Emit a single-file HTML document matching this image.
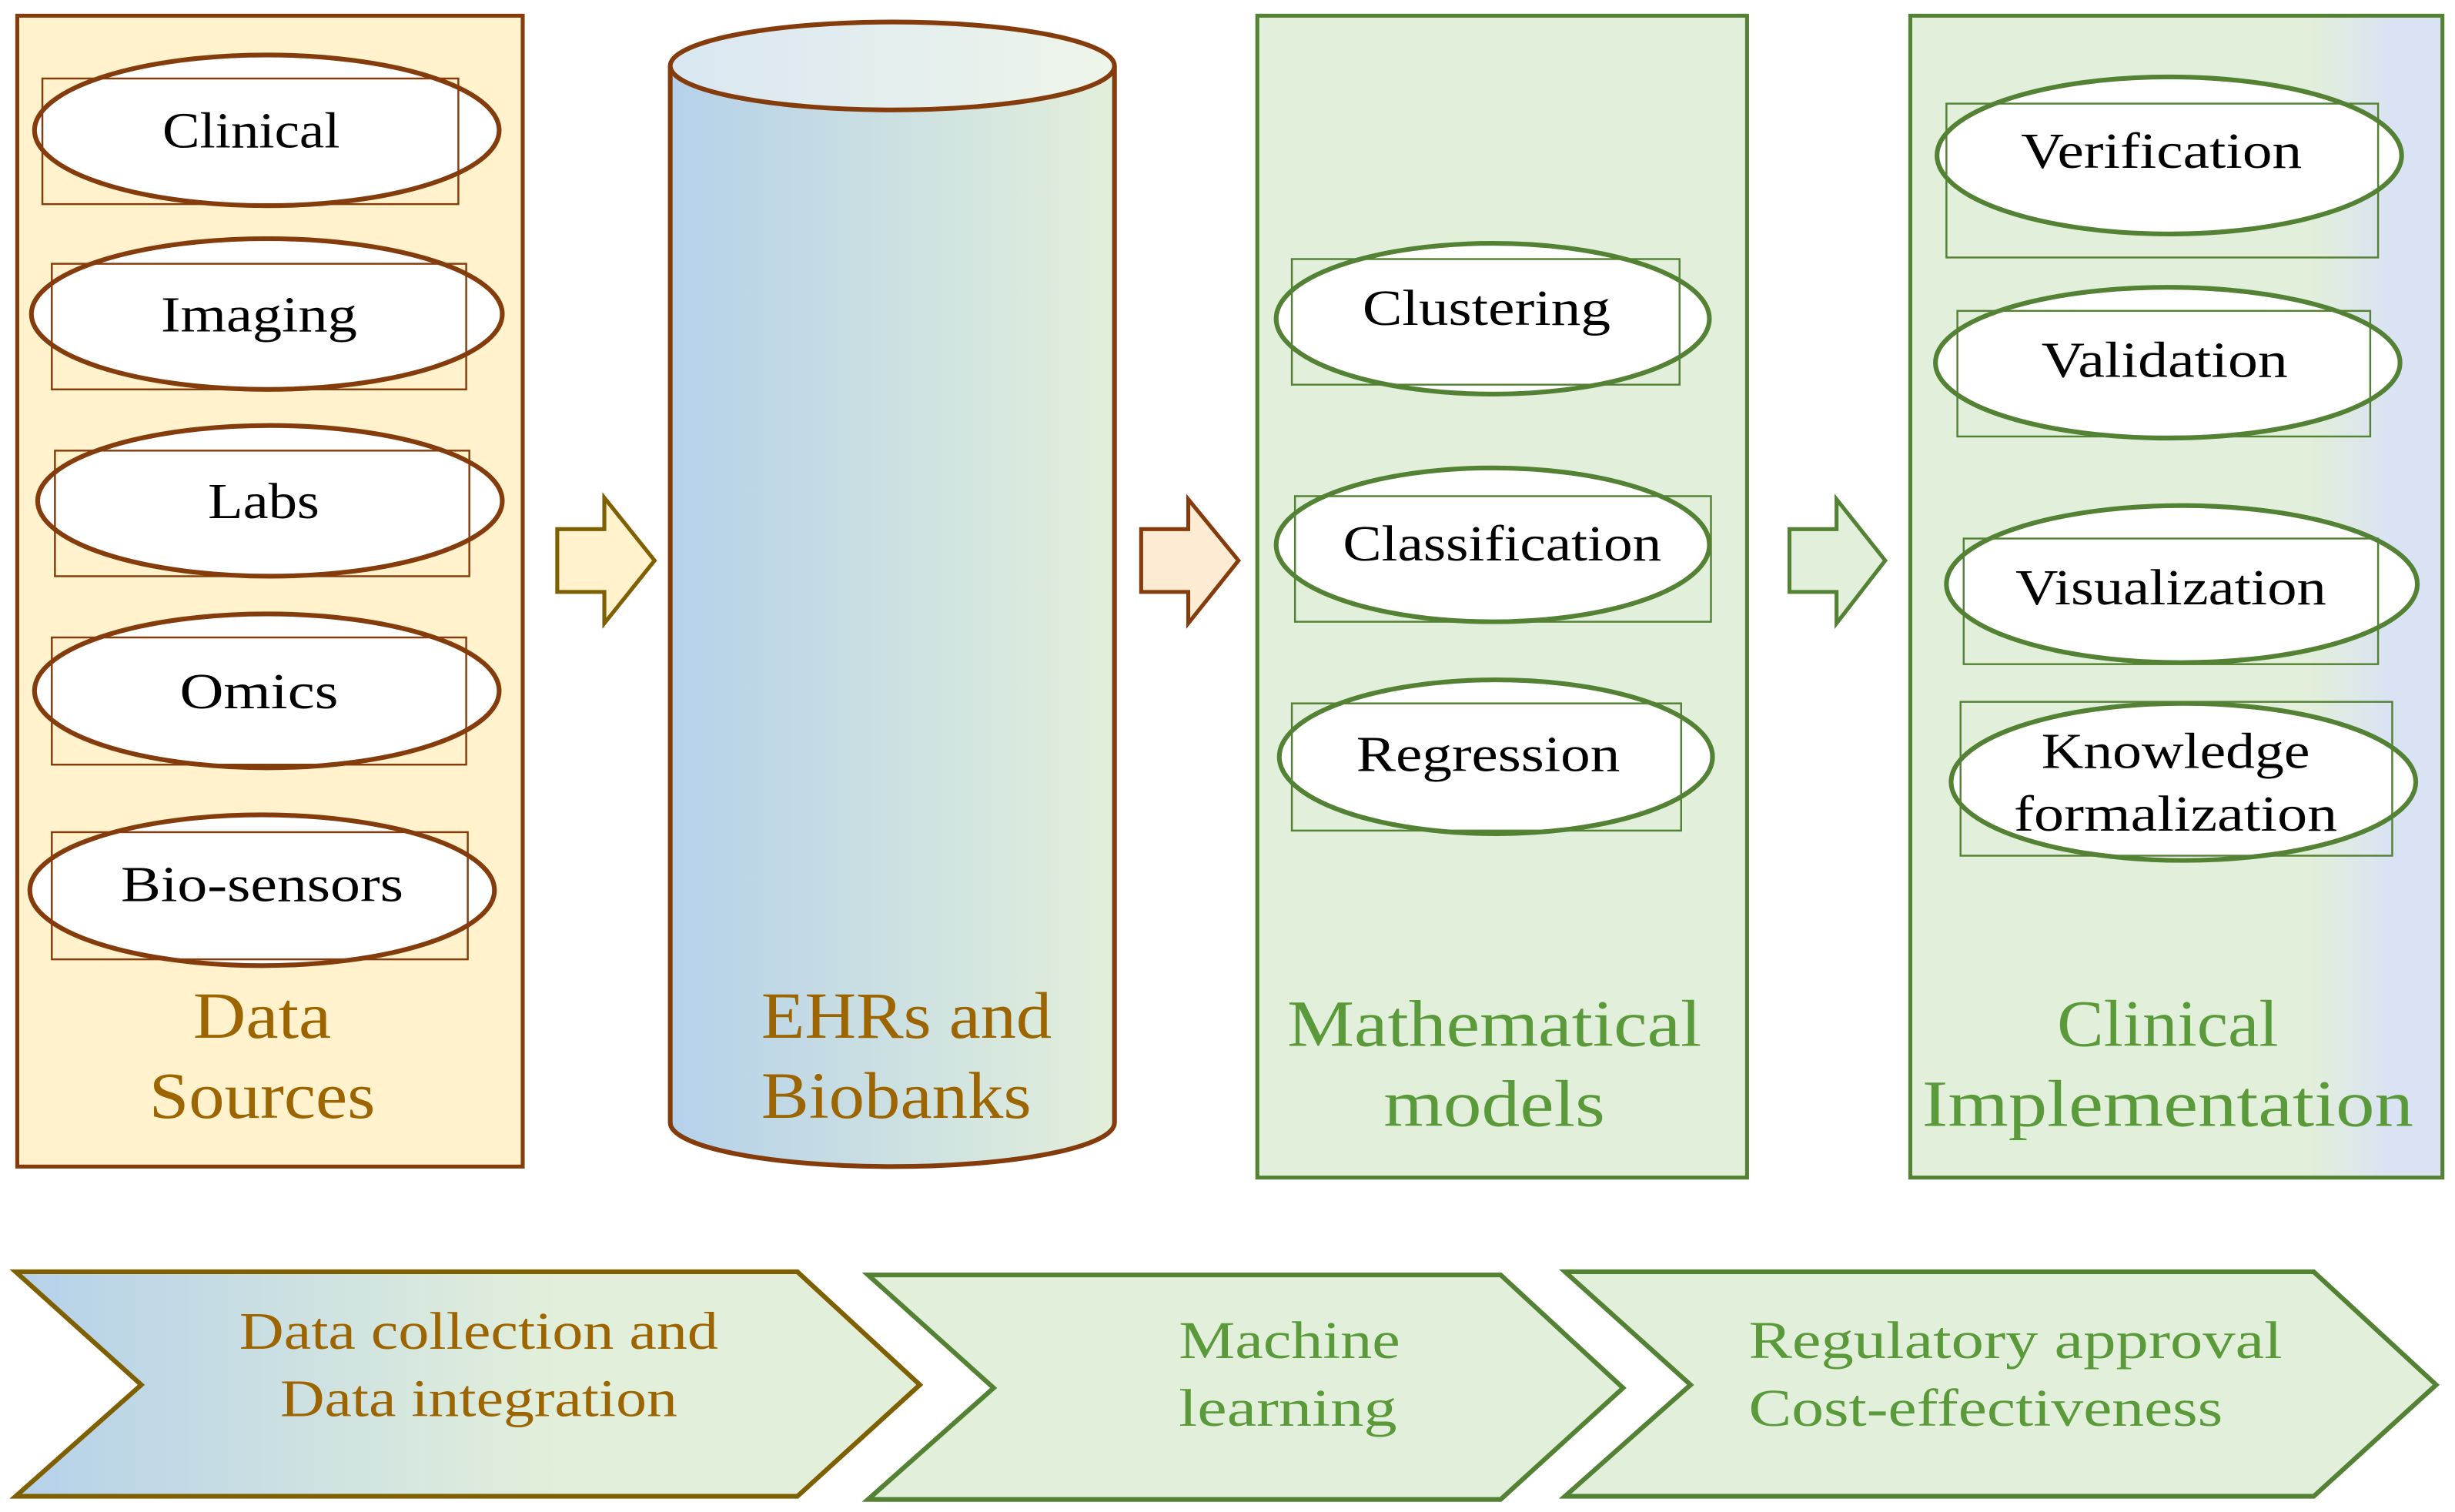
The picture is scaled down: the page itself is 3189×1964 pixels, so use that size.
<!DOCTYPE html>
<html><head><meta charset="utf-8"><style>html,body{margin:0;padding:0;background:#fff}svg{display:block}</style></head>
<body>
<svg width="3189" height="1964" viewBox="0 0 1564 963" preserveAspectRatio="none" xmlns="http://www.w3.org/2000/svg" font-family="Liberation Serif, serif">
<defs>
<linearGradient id="cyl" x1="0" x2="1" y1="0" y2="0"><stop offset="0" stop-color="#b5d1ea"/><stop offset="1" stop-color="#e2efda"/></linearGradient>
<linearGradient id="cyltop" x1="0" x2="1"><stop offset="0" stop-color="#d9e7f2"/><stop offset="1" stop-color="#eef5ea"/></linearGradient>
<linearGradient id="clin" x1="0" x2="1"><stop offset="0" stop-color="#e2efda"/><stop offset="0.75" stop-color="#e2efda"/><stop offset="0.9" stop-color="#dae3f3"/><stop offset="1" stop-color="#dae3f3"/></linearGradient>
<linearGradient id="chev" x1="0" x2="1"><stop offset="0" stop-color="#b5d1ea"/><stop offset="0.6" stop-color="#e2efda"/><stop offset="1" stop-color="#e2efda"/></linearGradient>
</defs>
<g font-size="32" fill="#000" text-anchor="middle" lengthAdjust="spacingAndGlyphs">
<!-- Data Sources -->
<rect x="11" y="10" width="322" height="733" fill="#fff2cc" stroke="#843c0c" stroke-width="2.5"/>
<g stroke="#843c0c" fill="#fff">
<ellipse cx="170" cy="83" rx="148" ry="48" stroke-width="3"/>
<rect x="27" y="50" width="265" height="80" fill="none" stroke-width="1.2"/>
<ellipse cx="170" cy="200" rx="150" ry="48" stroke-width="3"/>
<rect x="33" y="168" width="264" height="80" fill="none" stroke-width="1.2"/>
<ellipse cx="172" cy="319" rx="148" ry="48" stroke-width="3"/>
<rect x="35" y="287" width="264" height="80" fill="none" stroke-width="1.2"/>
<ellipse cx="170" cy="440" rx="148" ry="49" stroke-width="3"/>
<rect x="33" y="406" width="264" height="81" fill="none" stroke-width="1.2"/>
<ellipse cx="167" cy="567" rx="148" ry="48" stroke-width="3"/>
<rect x="33" y="530" width="265" height="81" fill="none" stroke-width="1.2"/>
</g>
<text x="160" y="94" textLength="113" lengthAdjust="spacingAndGlyphs">Clinical</text>
<text x="165" y="211" textLength="125" lengthAdjust="spacingAndGlyphs">Imaging</text>
<text x="168" y="330" textLength="71" lengthAdjust="spacingAndGlyphs">Labs</text>
<text x="165" y="451" textLength="101" lengthAdjust="spacingAndGlyphs">Omics</text>
<text x="167" y="574" textLength="180" lengthAdjust="spacingAndGlyphs">Bio-sensors</text>
<g font-size="42" fill="#9c6500"><text x="167" y="661" textLength="88" lengthAdjust="spacingAndGlyphs">Data</text><text x="167" y="712" textLength="144" lengthAdjust="spacingAndGlyphs">Sources</text></g>
<!-- arrow 1 -->
<polygon points="355,337 385,337 385,317 417,357 385,397 385,377 355,377" fill="#fff2cc" stroke="#7f6000" stroke-width="2.5"/>
<!-- cylinder -->
<path d="M427,42 L427,715 A141.5,28 0 0 0 710,715 L710,42" fill="url(#cyl)" stroke="#843c0c" stroke-width="3"/>
<ellipse cx="568.5" cy="42" rx="141.5" ry="28" fill="url(#cyltop)" stroke="#843c0c" stroke-width="3"/>
<g font-size="42" fill="#9c6500" text-anchor="start"><text x="485" y="661" textLength="185" lengthAdjust="spacingAndGlyphs">EHRs and</text><text x="485" y="712" textLength="172" lengthAdjust="spacingAndGlyphs">Biobanks</text></g>
<!-- arrow 2 -->
<polygon points="727,337 757,337 757,318 789,357 757,397 757,377 727,377" fill="#fdebd3" stroke="#843c0c" stroke-width="2.5"/>
<!-- Math models -->
<rect x="801" y="10" width="312" height="740" fill="#e2efda" stroke="#548235" stroke-width="2.5"/>
<g stroke="#548235" fill="#fff">
<ellipse cx="951" cy="203" rx="138" ry="48" stroke-width="3"/>
<rect x="823" y="165" width="247" height="80" fill="none" stroke-width="1.2"/>
<ellipse cx="951" cy="347" rx="138" ry="49" stroke-width="3"/>
<rect x="825" y="316" width="265" height="80" fill="none" stroke-width="1.2"/>
<ellipse cx="953" cy="482" rx="138" ry="49" stroke-width="3"/>
<rect x="823" y="448" width="248" height="81" fill="none" stroke-width="1.2"/>
</g>
<text x="947" y="207" textLength="158" lengthAdjust="spacingAndGlyphs">Clustering</text>
<text x="957" y="357" textLength="203" lengthAdjust="spacingAndGlyphs">Classification</text>
<text x="948" y="491" textLength="168" lengthAdjust="spacingAndGlyphs">Regression</text>
<g font-size="42" fill="#5b9a3a"><text x="952" y="666" textLength="264" lengthAdjust="spacingAndGlyphs">Mathematical</text><text x="952" y="717" textLength="141" lengthAdjust="spacingAndGlyphs">models</text></g>
<!-- arrow 3 -->
<polygon points="1140,337 1170,337 1170,318 1201,357 1170,397 1170,377 1140,377" fill="#e2efda" stroke="#548235" stroke-width="2.5"/>
<!-- Clinical implementation -->
<rect x="1217" y="10" width="339" height="740" fill="url(#clin)" stroke="#548235" stroke-width="2.5"/>
<g stroke="#548235" fill="#fff">
<ellipse cx="1382" cy="99" rx="148" ry="50" stroke-width="3"/>
<rect x="1240" y="66" width="275" height="98" fill="none" stroke-width="1.2"/>
<ellipse cx="1381" cy="231" rx="148" ry="48" stroke-width="3"/>
<rect x="1247" y="198" width="263" height="80" fill="none" stroke-width="1.2"/>
<ellipse cx="1390" cy="372" rx="150" ry="50" stroke-width="3"/>
<rect x="1251" y="343" width="264" height="80" fill="none" stroke-width="1.2"/>
<ellipse cx="1391" cy="498" rx="148" ry="50" stroke-width="3"/>
<rect x="1249" y="447" width="275" height="98" fill="none" stroke-width="1.2"/>
</g>
<text x="1377" y="107" textLength="179" lengthAdjust="spacingAndGlyphs">Verification</text>
<text x="1379" y="240" textLength="157" lengthAdjust="spacingAndGlyphs">Validation</text>
<text x="1383" y="385" textLength="198" lengthAdjust="spacingAndGlyphs">Visualization</text>
<text x="1386" y="489" textLength="171" lengthAdjust="spacingAndGlyphs">Knowledge</text>
<text x="1386" y="529" textLength="206" lengthAdjust="spacingAndGlyphs">formalization</text>
<g font-size="42" fill="#5b9a3a"><text x="1381" y="666" textLength="141" lengthAdjust="spacingAndGlyphs">Clinical</text><text x="1381" y="717" textLength="313" lengthAdjust="spacingAndGlyphs">Implementation</text></g>
<!-- bottom chevrons -->
<polygon points="10,810 508,810 586,882 508,953 10,953 90,882" fill="url(#chev)" stroke="#7f6000" stroke-width="3"/>
<polygon points="553,812 956,812 1034,884 956,955 553,955 633,884" fill="#e2efda" stroke="#548235" stroke-width="3"/>
<polygon points="997,810 1474,810 1552,882 1474,953 997,953 1077,882" fill="#e2efda" stroke="#548235" stroke-width="3"/>
<g font-size="34" fill="#9c6500"><text x="305" y="859" textLength="305" lengthAdjust="spacingAndGlyphs">Data collection and</text><text x="305" y="902" textLength="253" lengthAdjust="spacingAndGlyphs">Data integration</text></g>
<g font-size="34" fill="#5b9a3a" text-anchor="start"><text x="751" y="865" textLength="141" lengthAdjust="spacingAndGlyphs">Machine</text><text x="751" y="908" textLength="139" lengthAdjust="spacingAndGlyphs">learning</text>
<text x="1114" y="865" textLength="340" lengthAdjust="spacingAndGlyphs">Regulatory approval</text><text x="1114" y="908" textLength="302" lengthAdjust="spacingAndGlyphs">Cost-effectiveness</text></g>
</g>
</svg>
</body></html>
